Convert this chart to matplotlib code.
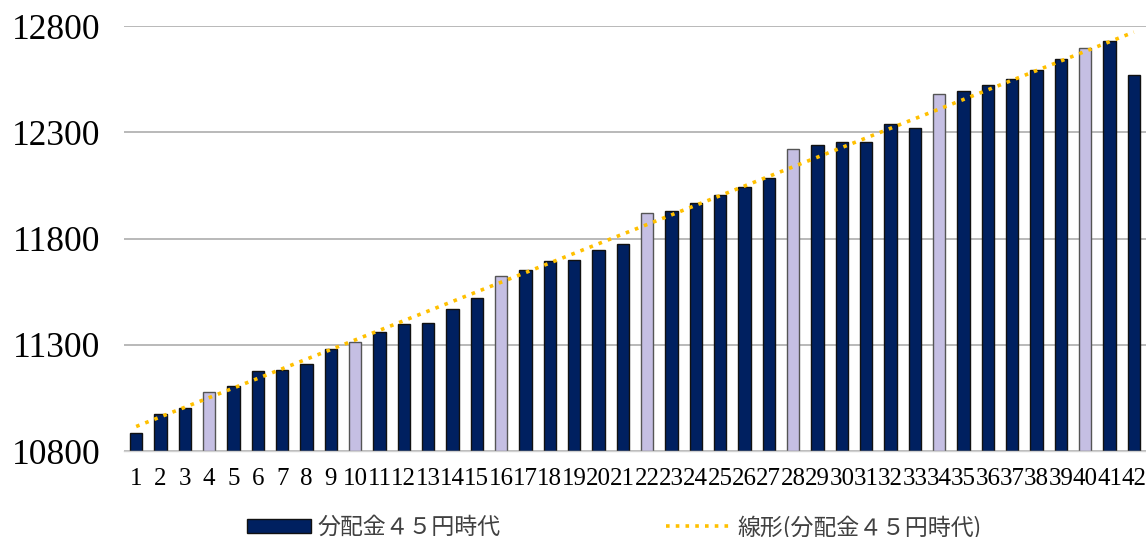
import numpy as np
import matplotlib
matplotlib.use("Agg")
import matplotlib.pyplot as plt
from matplotlib.lines import Line2D
from matplotlib.patches import Patch

# 月ごとの値（42本）
months = list(range(1, 43))
values = [10887, 10974, 11005, 11078, 11107, 11176, 11182, 11211, 11280, 11314,
          11361, 11400, 11405, 11469, 11523, 11625, 11654, 11694, 11701, 11747,
          11775, 11920, 11930, 11967, 12006, 12045, 12086, 12222, 12241, 12254,
          12254, 12340, 12322, 12482, 12496, 12524, 12553, 12594, 12645, 12697,
          12731, 12569]
highlight = [4, 10, 16, 22, 28, 34, 40]  # 薄紫の棒
y_ticks = [10800, 11300, 11800, 12300, 12800]

series_label = "分配金４５円時代"
trend_label = "線形(分配金４５円時代)"

navy = "#002060"
lavender = "#c5bfe3"
gold = "#ffc000"

fig = plt.figure(figsize=(11.46, 5.37), dpi=100)
ax = fig.add_axes([124 / 1146, 1 - 451.3 / 537, 1022 / 1146, (451.3 - 26) / 537])

colors = [lavender if m in highlight else navy for m in months]
edges = ["#555555" if m in highlight else "#111111" for m in months]
ax.bar(months, np.array(values) - 10800, bottom=10800, width=0.52,
       color=colors, edgecolor=edges, linewidth=1.0, zorder=2)

# 線形近似
coef = np.polyfit(months, values, 1)
x_fit = np.array([months[0], months[-1]])
ax.plot(x_fit, np.polyval(coef, x_fit), color=gold, linestyle=(0, (1, 1.7)),
        linewidth=2.6, zorder=3)

ax.set_xlim(0.5, 42.5)
ax.set_ylim(10800, 12800)
ax.set_yticks(y_ticks)
ax.set_xticks(months)
ax.yaxis.grid(True, color="#a6a6a6", linewidth=1.1, zorder=0)
ax.set_axisbelow(True)
for s in ["top", "right", "left"]:
    ax.spines[s].set_visible(False)
ax.spines["bottom"].set_color("#d0d0d0")
ax.spines["bottom"].set_linewidth(1.0)
ax.tick_params(axis="both", length=0)
ax.tick_params(axis="y", pad=17)
ax.tick_params(axis="x", pad=12)
for lbl in ax.get_yticklabels():
    lbl.set_fontfamily("Liberation Serif")
    lbl.set_fontsize(25.5)
for lbl in ax.get_xticklabels():
    lbl.set_fontfamily("Liberation Serif")
    lbl.set_fontsize(18)

handles = [Patch(facecolor=navy, edgecolor="#111111", linewidth=1.0),
           Line2D([0], [0], color=gold, linestyle=(0, (1, 1.7)), linewidth=2.6)]
fig.legend(handles, [series_label, trend_label], loc="center",
           bbox_to_anchor=(614 / 1146, 1 - 527 / 537), ncol=2, frameon=False,
           prop={"family": ["Noto Sans CJK JP", "DejaVu Sans"], "size": 16.5},
           labelcolor="#404040", handlelength=2.8, handleheight=0.55,
           handletextpad=0.3, columnspacing=7.2)

fig.savefig("out.png", dpi=100)
